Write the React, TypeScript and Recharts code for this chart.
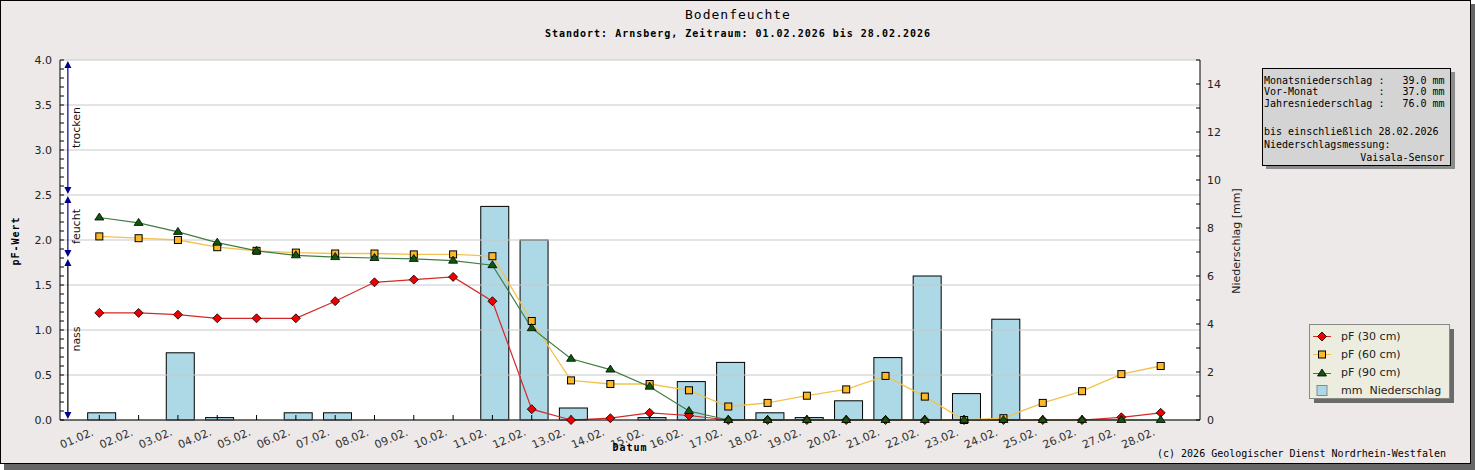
import React from "react"
import {
  ComposedChart,
  Bar,
  Line,
  XAxis,
  YAxis,
  CartesianGrid,
  Legend,
  ReferenceLine,
} from "recharts"

// Tages-Kategorien (Februar 2026)
const dayNumbers = [1, 2, 3, 4, 5, 6, 7, 8, 9, 10, 11, 12, 13, 14, 15, 16, 17, 18, 19, 20, 21, 22, 23, 24, 25, 26, 27, 28]
const dayLabels = [
  "01.02.", "02.02.", "03.02.", "04.02.", "05.02.", "06.02.", "07.02.", "08.02.", "09.02.", "10.02.",
  "11.02.", "12.02.", "13.02.", "14.02.", "15.02.", "16.02.", "17.02.", "18.02.", "19.02.", "20.02.",
  "21.02.", "22.02.", "23.02.", "24.02.", "25.02.", "26.02.", "27.02.", "28.02.",
]

// Niederschlag [mm]
const precipMm = [0.3, 0, 2.8, 0.1, 0, 0.3, 0.3, 0, 0, 0, 8.9, 7.5, 0.5, 0, 0.1, 1.6, 2.4, 0.3, 0.1, 0.8, 2.6, 6.0, 1.1, 4.2, 0, 0, 0, 0]

// pF-Werte in drei Tiefen
const pf30 = [1.19, 1.19, 1.17, 1.13, 1.13, 1.13, 1.32, 1.53, 1.56, 1.59, 1.32, 0.12, 0.0, 0.02, 0.08, 0.05, 0, 0, 0, 0, 0, 0, 0, 0, 0, 0, 0.03, 0.08]
const pf60 = [2.04, 2.02, 2.0, 1.92, 1.88, 1.86, 1.85, 1.85, 1.84, 1.84, 1.82, 1.1, 0.44, 0.4, 0.4, 0.33, 0.15, 0.19, 0.27, 0.34, 0.49, 0.26, 0.0, 0.02, 0.19, 0.32, 0.51, 0.6]
const pf90 = [2.25, 2.19, 2.09, 1.97, 1.88, 1.83, 1.81, 1.8, 1.79, 1.77, 1.72, 1.02, 0.68, 0.56, 0.37, 0.1, 0, 0, 0, 0, 0, 0, 0, 0, 0, 0, 0, 0]

// Achsen-Ticks
const leftTicks = [
  0, 0.1, 0.2, 0.3, 0.4, 0.5, 0.6, 0.7, 0.8, 0.9, 1, 1.1, 1.2, 1.3, 1.4, 1.5, 1.6, 1.7, 1.8, 1.9, 2,
  2.1, 2.2, 2.3, 2.4, 2.5, 2.6, 2.7, 2.8, 2.9, 3, 3.1, 3.2, 3.3, 3.4, 3.5, 3.6, 3.7, 3.8, 3.9, 4,
]
const leftLabelled = [0, 0.5, 1, 1.5, 2, 2.5, 3, 3.5, 4]
const rightTicks = [0, 1, 2, 3, 4, 5, 6, 7, 8, 9, 10, 11, 12, 13, 14, 15]
const rightLabelled = [0, 2, 4, 6, 8, 10, 12, 14]

// Bodenfeuchte-Bereiche (links am Rand)
const zones = [
  { name: "trocken", from: 2.5, to: 4.0, stroke: "#00008b" },
  { name: "feucht", from: 1.8, to: 2.5, stroke: "#00008b" },
  { name: "nass", from: 0, to: 1.8, stroke: "#000000" },
]

const infoLines = [
  "Monatsniederschlag :   39.0 mm",
  "Vor-Monat          :   37.0 mm",
  "Jahresniederschlag :   76.0 mm",
  "bis einschließlich 28.02.2026",
  "Niederschlagsmessung:",
  "                Vaisala-Sensor",
]

const colors = {
  red: "#ee0000",
  redLine: "#d42a2a",
  yellow: "#fdb827",
  yellowLine: "#f3c24e",
  green: "#0b5a0b",
  greenLine: "#3f7d3f",
  bar: "#add8e6",
  panel: "#ece9e8",
  grid: "#c8c8c8",
}

const legendItems = [
  { label: "pF (30 cm)", kind: "diamond" },
  { label: "pF (60 cm)", kind: "square" },
  { label: "pF (90 cm)", kind: "triangle" },
  { label: "mm  Niederschlag", kind: "bar" },
]

const chartData = dayNumbers.map((day, i) => ({
  day,
  mm: precipMm[i],
  pf30: pf30[i],
  pf60: pf60[i],
  pf90: pf90[i],
}))

const sans = "DejaVu Sans, sans-serif"
const mono = "DejaVu Sans Mono, monospace"

const Diamond = ({ cx, cy }: { cx: number; cy: number }) => (
  <polygon
    points={`${cx},${cy - 4.5} ${cx + 4.5},${cy} ${cx},${cy + 4.5} ${cx - 4.5},${cy}`}
    fill={colors.red}
    stroke="#000"
    strokeWidth={0.8}
  />
)
const Square = ({ cx, cy }: { cx: number; cy: number }) => (
  <rect x={cx - 3.5} y={cy - 3.5} width={7} height={7} fill={colors.yellow} stroke="#000" strokeWidth={1} />
)
const Triangle = ({ cx, cy }: { cx: number; cy: number }) => (
  <polygon
    points={`${cx},${cy - 4.5} ${cx + 4.5},${cy + 2.5} ${cx - 4.5},${cy + 2.5}`}
    fill={colors.green}
    stroke="#000"
    strokeWidth={0.8}
  />
)

const dotRenderer = (Shape: any) => (props: any) => {
  const { cx, cy, index } = props
  if (cx == null || cy == null) return <g key={index} />
  return <Shape key={index} cx={cx} cy={cy} />
}

// Balken sitzen im Original gut 2px rechts vom Tages-Tick
const BarShape = (props: any) => {
  const { x, y, width, height } = props
  if (!height || height <= 0) return <g />
  return <rect x={x + 2} y={y} width={width} height={height} fill={colors.bar} stroke="#000" strokeWidth={1} />
}

const XTick = ({ x, y, payload }: any) => {
  const tx = x - 5
  const ty = y + 7
  return (
    <text
      x={tx}
      y={ty}
      transform={`rotate(-23 ${tx} ${ty})`}
      textAnchor="end"
      fontSize={11}
      fontFamily={sans}
      fill="#333"
    >
      {dayLabels[payload.value - 1]}
    </text>
  )
}

const zoneShape = (zone: (typeof zones)[number]) => (props: any) => {
  const { x1, y1, y2 } = props
  const top = Math.min(y1, y2)
  const bottom = Math.max(y1, y2)
  const x = x1
  const head = "#00008b"
  const mid = (top + bottom) / 2
  return (
    <g>
      <line x1={x} x2={x} y1={top + 4} y2={bottom - 4} stroke={zone.stroke} strokeWidth={1.2} />
      <polygon points={`${x},${top + 1} ${x - 3.5},${top + 8} ${x + 3.5},${top + 8}`} fill={head} />
      <polygon points={`${x},${bottom - 1} ${x - 3.5},${bottom - 8} ${x + 3.5},${bottom - 8}`} fill={head} />
      <text
        x={x + 9}
        y={mid}
        transform={`rotate(-90 ${x + 9} ${mid})`}
        textAnchor="middle"
        dominantBaseline="central"
        fontSize={11}
        fontFamily={sans}
        fill="#111"
      >
        {zone.name}
      </text>
    </g>
  )
}

const renderLegend = () => (
  <svg width={148} height={82} style={{ display: "block" }}>
    <rect x={5} y={5} width={140} height={74} fill="#6a6a6a" />
    <rect x={0.5} y={0.5} width={140} height={74} fill="#ededdf" stroke="#888" />
    {legendItems.map((item, i) => {
      const cy = 12.5 + i * 18
      return (
        <g key={item.label}>
          {item.kind === "diamond" && (
            <>
              <line x1={4} x2={22} y1={cy} y2={cy} stroke={colors.redLine} />
              <Diamond cx={13} cy={cy} />
            </>
          )}
          {item.kind === "square" && (
            <>
              <line x1={4} x2={22} y1={cy} y2={cy} stroke={colors.yellowLine} />
              <Square cx={13} cy={cy} />
            </>
          )}
          {item.kind === "triangle" && (
            <>
              <line x1={4} x2={22} y1={cy + 1} y2={cy + 1} stroke={colors.greenLine} />
              <Triangle cx={13} cy={cy + 1} />
            </>
          )}
          {item.kind === "bar" && (
            <rect x={8} y={cy - 5} width={10} height={10} fill={colors.bar} stroke="#888" />
          )}
          <text
            x={32}
            y={cy}
            dominantBaseline="central"
            fontSize={11}
            fontFamily={sans}
            fill="#222"
            style={{ whiteSpace: "pre" }}
          >
            {item.label}
          </text>
        </g>
      )
    })}
  </svg>
)

const App = () => {
  return (
    <div style={{ position: "absolute", left: 0, top: 0, width: 1475, height: 470, overflow: "hidden" }}>
      {/* Schatten + Rahmen */}
      <div style={{ position: "absolute", left: 1471, top: 4, width: 4, height: 466, background: "#666" }} />
      <div style={{ position: "absolute", left: 4, top: 464, width: 1471, height: 6, background: "#666" }} />
      <div
        style={{
          position: "absolute",
          left: 0,
          top: 0,
          width: 1471,
          height: 464,
          boxSizing: "border-box",
          border: "1px solid #000",
          background: colors.panel,
        }}
      />
      <div style={{ position: "absolute", left: 0, top: 0 }}>
        <ComposedChart width={1471} height={464} data={chartData} margin={{ top: 60, right: 211, left: 10, bottom: 14 }}>
          {/* nur weiße Plotfläche; Gitterlinien kommen als ReferenceLines bei den beschrifteten Werten */}
          <CartesianGrid
            xAxisId="x"
            yAxisId="left"
            vertical={false}
            horizontal={false}
            fill="#ffffff"
            fillOpacity={1}
          />
          {/* negative tickSize: Tickstriche zeigen wie im Original nach innen */}
          <XAxis
            xAxisId="x"
            dataKey="day"
            type="number"
            domain={[0, 29]}
            ticks={dayNumbers}
            interval={0}
            height={30}
            tickSize={-5}
            tickMargin={13}
            tickLine={{ stroke: "#000" }}
            axisLine={{ stroke: "#000" }}
            tick={<XTick />}
          />
          <YAxis
            yAxisId="left"
            domain={[0, 4]}
            ticks={leftTicks}
            interval={0}
            width={50}
            tickSize={-4}
            tickMargin={12}
            tickLine={{ stroke: "#000" }}
            axisLine={{ stroke: "#000" }}
            tickFormatter={(v: number) => (leftLabelled.includes(v) ? v.toFixed(1) : "")}
            tick={{ fontSize: 11, fontFamily: sans, fill: "#222" }}
          />
          <YAxis
            yAxisId="right"
            orientation="right"
            domain={[0, 15]}
            ticks={rightTicks}
            interval={0}
            width={60}
            tickSize={-4}
            tickMargin={11}
            tickLine={{ stroke: "#000" }}
            axisLine={{ stroke: "#000" }}
            tickFormatter={(v: number) => (rightLabelled.includes(v) ? String(v) : "")}
            tick={{ fontSize: 11, fontFamily: sans, fill: "#222", textAnchor: "start" }}
          />
          <Legend
            layout="horizontal"
            verticalAlign="middle"
            align="center"
            content={renderLegend}
            wrapperStyle={{ left: 1309, top: 324, width: 150, height: 82 }}
          />
          {leftLabelled.map((v) => (
            <ReferenceLine key={`grid-${v}`} xAxisId="x" yAxisId="left" y={v} stroke={colors.grid} strokeWidth={1} />
          ))}
          <Bar
            xAxisId="x"
            yAxisId="right"
            dataKey="mm"
            barSize={28}
            fill={colors.bar}
            stroke="#000"
            strokeWidth={1}
            shape={<BarShape />}
            isAnimationActive={false}
          />
          <Line
            xAxisId="x"
            yAxisId="left"
            dataKey="pf30"
            type="linear"
            stroke={colors.redLine}
            strokeWidth={1.2}
            dot={dotRenderer(Diamond)}
            activeDot={false}
            isAnimationActive={false}
          />
          <Line
            xAxisId="x"
            yAxisId="left"
            dataKey="pf60"
            type="linear"
            stroke={colors.yellowLine}
            strokeWidth={1.3}
            dot={dotRenderer(Square)}
            activeDot={false}
            isAnimationActive={false}
          />
          <Line
            xAxisId="x"
            yAxisId="left"
            dataKey="pf90"
            type="linear"
            stroke={colors.greenLine}
            strokeWidth={1.2}
            dot={dotRenderer(Triangle)}
            activeDot={false}
            isAnimationActive={false}
          />
          {zones.map((zone) => (
            <ReferenceLine
              key={zone.name}
              xAxisId="x"
              yAxisId="left"
              segment={[
                { x: 0.2, y: zone.to },
                { x: 0.2, y: zone.from },
              ]}
              shape={zoneShape(zone)}
            />
          ))}
        </ComposedChart>
      </div>
      {/* Titel, Achsentitel, Infobox */}
      <svg width={1475} height={470} style={{ position: "absolute", left: 0, top: 0, pointerEvents: "none" }}>
        <text x={738} y={19} textAnchor="middle" fontSize={13} fontFamily={mono} letterSpacing={1} fill="#000">
          Bodenfeuchte
        </text>
        <text x={738} y={37} textAnchor="middle" fontSize={10} fontWeight="bold" fontFamily={mono} letterSpacing={1} fill="#000">
          Standort: Arnsberg, Zeitraum: 01.02.2026 bis 28.02.2026
        </text>
        <text x={630} y={451} textAnchor="middle" fontSize={10} fontWeight="bold" fontFamily={mono} letterSpacing={1} fill="#000">
          Datum
        </text>
        <text
          x={19}
          y={241}
          transform="rotate(-90 19 241)"
          textAnchor="middle"
          fontSize={10}
          fontWeight="bold"
          fontFamily={mono}
          letterSpacing={1}
          fill="#000"
        >
          pF-Wert
        </text>
        <text
          x={1240}
          y={241}
          transform="rotate(-90 1240 241)"
          textAnchor="middle"
          fontSize={11}
          fontFamily={sans}
          fill="#222"
        >
          Niederschlag [mm]
        </text>
        <rect x={1266} y={72} width={189} height={97} fill="#8c8c8c" />
        <rect x={1262.5} y={68.5} width={188} height={97} fill="#d4d4d4" stroke="#000" />
        {infoLines.map((line, i) => (
          <text
            key={i}
            x={1264}
            y={[83.5, 95.2, 107, 134.5, 147.7, 160.8][i]}
            fontSize={10}
            fontFamily={mono}
            fill="#000"
            style={{ whiteSpace: "pre" }}
          >
            {line}
          </text>
        ))}
        <text x={1157} y={457} fontSize={10} fontFamily={mono} fill="#000">
          (c) 2026 Geologischer Dienst Nordrhein-Westfalen
        </text>
      </svg>
    </div>
  )
}

export default App
